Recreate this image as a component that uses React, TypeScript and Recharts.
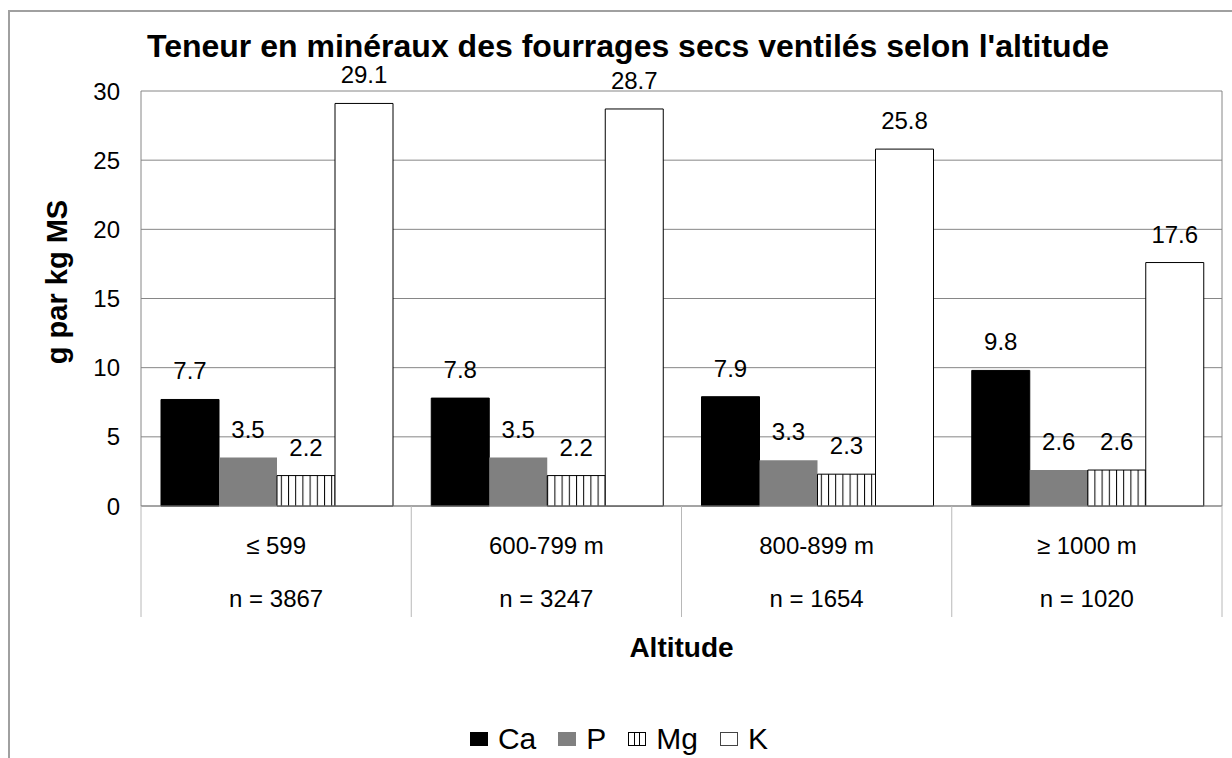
import React from 'react';
import { BarChart, Bar, XAxis, YAxis, CartesianGrid, LabelList, Legend } from 'recharts';

// altitude classes and sample sizes
const categories = ['≤ 599', '600-799 m', '800-899 m', '≥ 1000 m'];
const counts = ['n = 3867', 'n = 3247', 'n = 1654', 'n = 1020'];

// g per kg dry matter
const ca = [7.7, 7.8, 7.9, 9.8];
const p = [3.5, 3.5, 3.3, 2.6];
const mg = [2.2, 2.2, 2.3, 2.6];
const k = [29.1, 28.7, 25.8, 17.6];

const seriesNames = ['Ca', 'P', 'Mg', 'K'];
const yTicks = [0, 5, 10, 15, 20, 25, 30];

const data = categories.map((name, i) => ({
  name,
  n: counts[i],
  Ca: ca[i],
  P: p[i],
  Mg: mg[i],
  K: k[i],
}));

const FONT = '"Liberation Sans", Arial, Helvetica, sans-serif';
const W = 1232;
const H = 758;
const MARGIN = { top: 91, right: 9, left: 0, bottom: 52 };
const Y_WIDTH = 141;
const RIGHT_W = 1;
const BAND = (W - Y_WIDTH - MARGIN.right - RIGHT_W) / categories.length;

const fmt = (v: any) => Number(v).toFixed(1);

function CategoryTick(props: any) {
  const { x, y, payload } = props;
  const i = categories.indexOf(payload.value);
  const last = i === categories.length - 1;
  return (
    <g>
      <line x1={x - BAND / 2} x2={x - BAND / 2} y1={y} y2={y + 111} stroke="#b8b8b8" />
      {last && <line x1={x + BAND / 2} x2={x + BAND / 2} y1={y} y2={y + 111} stroke="#b8b8b8" />}
      <text x={x} y={y + 48} textAnchor="middle" fontSize={24} fontFamily={FONT} fill="#000">
        {payload.value}
      </text>
      <text x={x} y={y + 101} textAnchor="middle" fontSize={24} fontFamily={FONT} fill="#000">
        {counts[i]}
      </text>
    </g>
  );
}

function Swatch({ name }: { name: string }) {
  if (name === 'Ca') return <svg width={18} height={14}><rect x={0.5} y={0.5} width={17} height={13} fill="#000" stroke="#000" /></svg>;
  if (name === 'P') return <svg width={18} height={14}><rect x={0} y={0} width={18} height={14} fill="#808080" /></svg>;
  if (name === 'Mg')
    return (
      <svg width={18} height={14}>
        <rect x={0.5} y={0.5} width={17} height={13} fill="#fff" stroke="#000" />
        <line x1={6.5} x2={6.5} y1={0} y2={14} stroke="#000" />
        <line x1={11.5} x2={11.5} y1={0} y2={14} stroke="#000" />
      </svg>
    );
  return <svg width={18} height={14}><rect x={0.5} y={0.5} width={17} height={13} fill="#fff" stroke="#444" /></svg>;
}

function LegendContent() {
  return (
    <div
      style={{
        display: 'flex',
        justifyContent: 'center',
        alignItems: 'center',
        height: 40,
        paddingLeft: 28,
        fontFamily: FONT,
        fontSize: 30,
        color: '#000',
      }}
    >
      {seriesNames.map((name) => (
        <span key={name} style={{ display: 'flex', alignItems: 'center', marginRight: 22 }}>
          <Swatch name={name} />
          <span style={{ marginLeft: 10, lineHeight: '40px' }}>{name}</span>
        </span>
      ))}
    </div>
  );
}

export default function App() {
  const labelStyle = { fill: '#000', fontSize: 24, fontFamily: FONT };
  return (
    <div style={{ position: 'fixed', left: 0, top: 0, width: W, height: H, overflow: 'hidden', background: '#fff' }}>
      <div
        style={{
          position: 'absolute',
          left: 8,
          top: 10,
          width: 1400,
          height: 900,
          borderLeft: '2px solid #a0a0a0',
          borderTop: '2px solid #a0a0a0',
        }}
      />
      <div style={{ position: 'absolute', left: 0, top: 0 }}>
        <BarChart width={W} height={H} data={data} margin={MARGIN} barCategoryGap={20} barGap={0}>
          <defs>
            <pattern id="mgPat" width={7.2} height={10} patternUnits="userSpaceOnUse">
              <rect x={0} y={0} width={7.2} height={10} fill="#fff" />
              <line x1={0.5} x2={0.5} y1={0} y2={10} stroke="#000" strokeWidth={1} />
            </pattern>
          </defs>
          <text x={628} y={57} textAnchor="middle" fontSize={32} fontWeight="bold" fontFamily={FONT} fill="#000">
            Teneur en minéraux des fourrages secs ventilés selon l'altitude
          </text>
          <text
            x={67}
            y={282}
            transform="rotate(-90 67 282)"
            textAnchor="middle"
            fontSize={29}
            fontWeight="bold"
            fontFamily={FONT}
            fill="#000"
          >
            g par kg MS
          </text>
          <CartesianGrid vertical={false} stroke="#868686" />
          <XAxis
            dataKey="name"
            height={160}
            tick={<CategoryTick />}
            tickLine={false}
            tickSize={0}
            tickMargin={0}
            interval={0}
            axisLine={{ stroke: '#868686' }}
            label={{
              value: 'Altitude',
              position: 'insideTop',
              offset: 131,
              style: { fill: '#000', fontSize: 28, fontWeight: 'bold', fontFamily: FONT },
            }}
          />
          <YAxis
            width={Y_WIDTH}
            domain={[0, 30]}
            ticks={yTicks}
            interval={0}
            tickLine={false}
            tickSize={0}
            tickMargin={21}
            axisLine={{ stroke: '#868686' }}
            tick={{ fill: '#000', fontSize: 24, fontFamily: FONT }}
          />
          <YAxis
            yAxisId="right"
            orientation="right"
            width={RIGHT_W}
            domain={[0, 30]}
            ticks={yTicks}
            tick={false}
            tickLine={false}
            axisLine={{ stroke: '#868686' }}
          />
          <Legend
            verticalAlign="bottom"
            content={<LegendContent />}
            wrapperStyle={{ top: 719, left: 0, width: W, height: 40 }}
          />
          <Bar dataKey="Ca" fill="#000" stroke="#000" isAnimationActive={false}>
            <LabelList dataKey="Ca" position="top" offset={20} formatter={fmt} style={labelStyle} />
          </Bar>
          <Bar dataKey="P" fill="#808080" isAnimationActive={false}>
            <LabelList dataKey="P" position="top" offset={20} formatter={fmt} style={labelStyle} />
          </Bar>
          <Bar dataKey="Mg" fill="url(#mgPat)" stroke="#000" isAnimationActive={false}>
            <LabelList dataKey="Mg" position="top" offset={20} formatter={fmt} style={labelStyle} />
          </Bar>
          <Bar dataKey="K" fill="#fff" stroke="#000" isAnimationActive={false}>
            <LabelList dataKey="K" position="top" offset={20} formatter={fmt} style={labelStyle} />
          </Bar>
        </BarChart>
      </div>
    </div>
  );
}
